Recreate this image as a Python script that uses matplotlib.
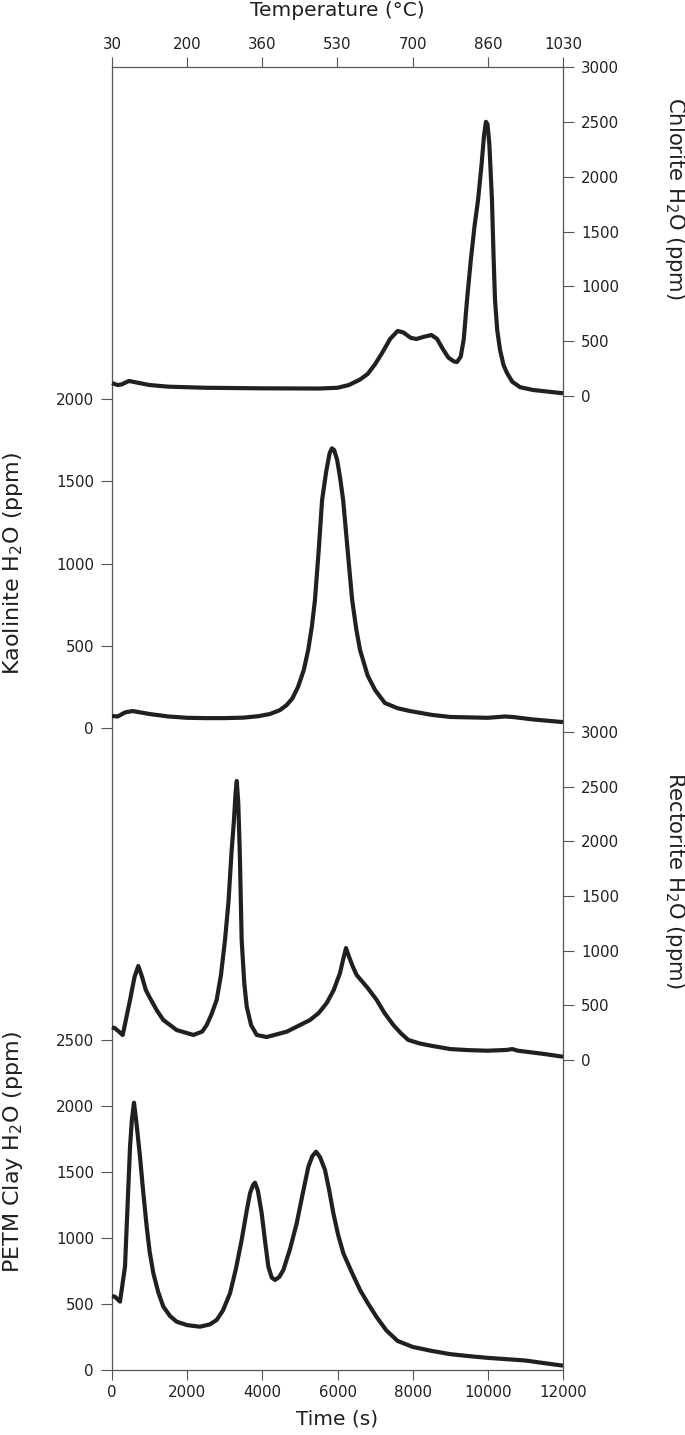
import matplotlib
matplotlib.use("Agg")
import matplotlib.pyplot as plt

plt.rcParams['font.family'] = ['DejaVu Sans']
plt.rcParams['mathtext.fontset'] = 'dejavusans'

# ---------------- data ----------------
time_ticks = [0, 2000, 4000, 6000, 8000, 10000, 12000]
temp_labels = ['30', '200', '360', '530', '700', '860', '1030']

chlorite_t = [0, 150, 250, 450, 700, 1000, 1500, 2500, 4000, 5500, 6000, 6300, 6600,
              6800, 7000, 7200, 7400, 7600, 7750, 7950, 8100, 8300, 8500, 8650, 8800,
              8950, 9100, 9180, 9280, 9360, 9446, 9550, 9650, 9740, 9830, 9900, 9950,
              9990, 10040, 10110, 10150, 10191, 10250, 10325, 10420, 10510, 10650,
              10860, 11200, 11600, 12000]
chlorite_v = [118, 100, 105, 137, 120, 100, 85, 75, 70, 68, 75, 100, 150,
              200, 290, 400, 520, 593, 580, 530, 520, 540, 556, 520, 430,
              350, 315, 310, 360, 520, 875, 1250, 1560, 1787, 2100, 2380, 2500,
              2480, 2300, 1787, 1300, 875, 600, 420, 280, 210, 130,
              80, 55, 40, 25]

kaolinite_t = [0, 150, 350, 550, 1000, 1500, 2000, 2500, 3000, 3500, 3900, 4200, 4470,
               4650, 4800, 4950, 5100, 5220, 5320, 5400, 5500, 5590, 5700, 5790, 5850,
               5910, 5990, 6070, 6150, 6270, 6390, 6500, 6600, 6800, 7000, 7260, 7600,
               7930, 8500, 9000, 10000, 10460, 10700, 11200, 12000]
kaolinite_v = [73, 70, 95, 103, 85, 70, 62, 60, 60, 63, 72, 85, 109,
               140, 180, 250, 350, 474, 620, 778, 1080, 1386, 1560, 1670, 1700,
               1690, 1630, 1520, 1386, 1080, 778, 600, 474, 320, 231, 152, 120,
               103, 80, 67, 62, 70, 66, 52, 36]

rectorite_t = [0, 80, 285, 480, 600, 700, 800, 900, 1010, 1200, 1366, 1720, 2165, 2400,
               2520, 2650, 2785, 2900, 3007, 3100, 3180, 3240, 3290, 3320, 3360, 3400,
               3450, 3520, 3585, 3700, 3850, 4115, 4650, 5270, 5500, 5713, 5900, 6067,
               6150, 6227, 6300, 6400, 6510, 6800, 7043, 7250, 7486, 7700, 7885, 8200,
               8500, 9000, 9500, 10000, 10500, 10650, 10800, 11500, 12000]
rectorite_v = [300, 290, 229, 549, 760, 860, 760, 640, 567, 450, 366, 274, 229, 260,
               320, 420, 549, 780, 1098, 1450, 1900, 2168, 2450, 2552, 2350, 1900,
               1098, 700, 488, 320, 229, 210, 259, 366, 430, 521, 640, 796,
               920, 1024, 950, 860, 777, 660, 549, 430, 320, 240, 183, 150,
               130, 100, 90, 85, 92, 100, 85, 55, 30]

petm_t = [0, 80, 213, 346, 480, 530, 585, 640, 745, 830, 923, 1000, 1100, 1230, 1366,
          1540, 1720, 2000, 2340, 2600, 2785, 2950, 3140, 3300, 3450, 3580, 3672, 3750,
          3805, 3880, 3983, 4070, 4160, 4250, 4338, 4450, 4560, 4740, 4914, 5070, 5225,
          5330, 5430, 5540, 5668, 5780, 5890, 6020, 6156, 6380, 6600, 6820, 7043, 7300,
          7600, 8000, 8500, 9000, 9500, 10000, 10500, 11000, 11500, 12000]
petm_v = [560, 555, 518, 783, 1692, 1900, 2025, 1900, 1616, 1350, 1086, 900, 733, 590, 480,
          410, 366, 340, 328, 345, 379, 450, 581, 770, 985, 1200, 1339, 1400,
          1419, 1360, 1187, 980, 783, 700, 682, 705, 758, 920, 1111, 1330, 1540,
          1620, 1654, 1610, 1515, 1360, 1187, 1020, 884, 740, 606, 500, 400, 300,
          220, 175, 145, 120, 105, 92, 82, 72, 52, 33]

chlorite_ticks = [0, 500, 1000, 1500, 2000, 2500, 3000]
kaolinite_ticks = [0, 500, 1000, 1500, 2000]
rectorite_ticks = [0, 500, 1000, 1500, 2000, 2500, 3000]
petm_ticks = [0, 500, 1000, 1500, 2000, 2500]

# ---------------- layout ----------------
W_PX, H_PX = 685, 1435
fig = plt.figure(figsize=(W_PX / 100, H_PX / 100), dpi=100)

def rect(x0, x1, ytop, ybot):
    return [x0 / W_PX, 1 - ybot / H_PX, (x1 - x0) / W_PX, (ybot - ytop) / H_PX]

XL, XR = 112, 563
LINE_C = '#231f20'
SPINE_C = '#555555'
TEXT_C = '#231f20'
TICK_FS = 10.8
LAB_FS = 14.5
RLAB_FS = 15.2
LLAB_FS = 16.0

frame = fig.add_axes(rect(XL, XR, 67, 1370))
frame.set_xlim(0, 12000)
frame.set_ylim(0, 1)
frame.set_yticks([])
frame.set_xticks(time_ticks)
frame.set_xticklabels([str(t) for t in time_ticks], fontsize=TICK_FS, color=TEXT_C)
frame.tick_params(axis='x', direction='out', length=7, width=0.8, color=SPINE_C, pad=4)
for s in frame.spines.values():
    s.set_color(SPINE_C)
    s.set_linewidth(0.9)

top = frame.twiny()
top.set_xlim(0, 12000)
top.set_xticks(time_ticks)
top.set_xticklabels(temp_labels, fontsize=TICK_FS, color=TEXT_C)
top.tick_params(axis='x', direction='out', length=7, width=0.8, color=SPINE_C, pad=4)
for s in top.spines.values():
    s.set_visible(False)

def series_axes(ytop, ybot, ymax, ticks, side, t, v):
    ax = fig.add_axes(rect(XL, XR, ytop, ybot))
    ax.patch.set_alpha(0)
    for s in ax.spines.values():
        s.set_visible(False)
    ax.set_xlim(0, 12000)
    ax.set_ylim(0, ymax)
    ax.set_xticks([])
    ax.set_yticks(ticks)
    ax.set_yticklabels([str(k) for k in ticks], fontsize=TICK_FS, color=TEXT_C)
    if side == 'right':
        ax.yaxis.tick_right()
    else:
        ax.yaxis.tick_left()
    ax.tick_params(axis='y', direction='out', length=8, width=0.8, color=SPINE_C, pad=5)
    ax.plot(t, v, color=LINE_C, lw=3.0, solid_joinstyle='round', solid_capstyle='butt',
            clip_on=False)
    return ax

series_axes(67, 396, 3000, chlorite_ticks, 'right', chlorite_t, chlorite_v)
series_axes(399, 728, 2000, kaolinite_ticks, 'left', kaolinite_t, kaolinite_v)
series_axes(732, 1060, 3000, rectorite_ticks, 'right', rectorite_t, rectorite_v)
series_axes(1040, 1370, 2500, petm_ticks, 'left', petm_t, petm_v)

def ftext(x, y, s, rot, fs):
    fig.text(x / W_PX, 1 - y / H_PX, s, rotation=rot, fontsize=fs, color=TEXT_C,
             ha='center', va='center', rotation_mode='anchor')

ftext(337, 11, 'Temperature (°C)', 0, LAB_FS)
ftext(337, 1419, 'Time (s)', 0, LAB_FS)
ftext(675, 198, 'Chlorite H$_\\mathregular{2}$O (ppm)', -90, RLAB_FS)
ftext(675, 880, 'Rectorite H$_\\mathregular{2}$O (ppm)', -90, RLAB_FS)
ftext(13, 563, 'Kaolinite H$_\\mathregular{2}$O (ppm)', 90, LLAB_FS)
ftext(13, 1152, 'PETM Clay H$_\\mathregular{2}$O (ppm)', 90, LLAB_FS)

fig.savefig('out.png', dpi=100)
